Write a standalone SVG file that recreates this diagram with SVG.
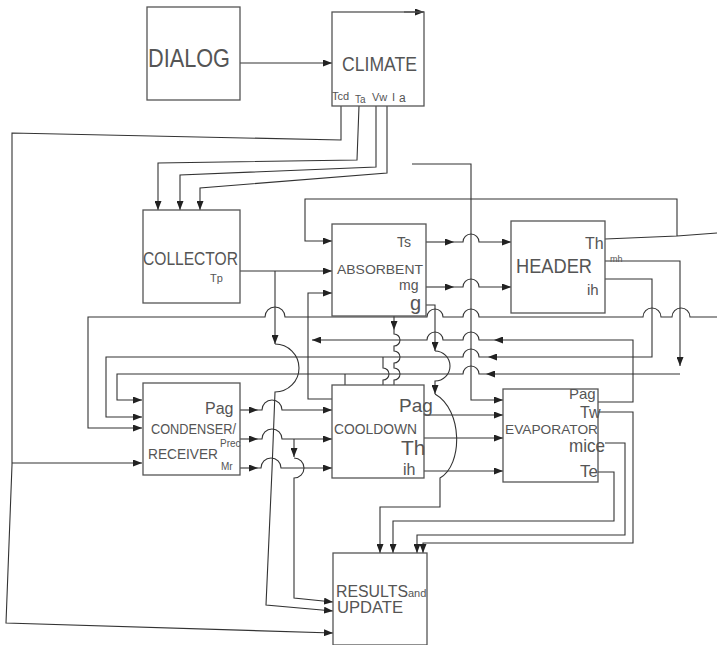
<svg xmlns="http://www.w3.org/2000/svg" width="717" height="645" viewBox="0 0 717 645">
<defs>
<marker id="ah" markerWidth="9" markerHeight="7" refX="9" refY="3.5" orient="auto" markerUnits="userSpaceOnUse"><path d="M0,0 L9,3.5 L0,7 z" fill="#222"/></marker>
</defs>
<style>
.box{fill:none;stroke:#555;stroke-width:1.3}
.c{fill:none;stroke:#333;stroke-width:1.1}
.a{marker-end:url(#ah)}
text{font-family:"Liberation Sans",Arial,sans-serif;fill:#555}
</style>
<rect width="717" height="645" fill="#fff"/>
<g id="connectors">
<path class="c a" d="M240,63 H332"/>
<path class="c a" d="M404,12 H424"/>
<path class="c a" d="M341,106 V140 L12,133 L12,465 L6,623 L333,633"/>
<path class="c a" d="M12,463 H142"/>
<path class="c a" d="M359,106 L357,160 L158,163 V210"/>
<path class="c a" d="M376,106 L376,167 L180,175 V210"/>
<path class="c a" d="M387,106 L387,173 L200,188 V210"/>
<path class="c a" d="M412,164 H471 V400 H503"/>
<path class="c" d="M605,239 L677,236 L717,233"/>
<path class="c a" d="M677,236 V199 H305 V241 H332"/>
<path class="c a" d="M240,271 H332"/>
<path class="c a" d="M275,271 V344"/>
<path class="c a" d="M275,344 A24,24 0 0 1 275,392 L272,470 L266,605 L333,611"/>
<path class="c a" d="M332,399 H308 V293 H332"/>
<path class="c a" d="M426,242 H454"/>
<path class="c a" d="M454,242 H463 A8,8 0 0 1 479,242 H511"/>
<path class="c a" d="M426,287 H454"/>
<path class="c a" d="M454,287 H463 A8,8 0 0 1 479,287 H511"/>
<path class="c a" d="M426,305 H435 V351"/>
<path class="c a" d="M435,351 A15,15 0 0 1 435,381 V394"/>
<path class="c a" d="M435,394 C463,410 463,465 440,478 V507 H380 V553"/>
<path class="c a" d="M717,317 H690 A9,9 0 0 0 672,317 H661 A9,9 0 0 0 643,317 H479 A8,8 0 0 0 463,317 H443 A8,8 0 0 0 427,317 H285 A10,10 0 0 0 265,317 H88 V428 H142"/>
<path class="c a" d="M598,402 H633 V340 H494"/>
<path class="c a" d="M494,340 H479 A8,8 0 0 0 463,340 H443 A8,8 0 0 0 427,340 H312"/>
<path class="c a" d="M605,279 H652 V357 H488"/>
<path class="c a" d="M488,357 H479 A8,8 0 0 0 463,357 H106 V417 H142"/>
<path class="c a" d="M605,261 H680 V366"/>
<path class="c a" d="M680,374 H486"/>
<path class="c a" d="M486,374 H479 A8,8 0 0 0 463,374 H117 V400 H142"/>
<path class="c" d="M345,374 V385"/>
<path class="c" d="M383,357 V368 A6,6 0 0 1 383,380 V385"/>
<path class="c a" d="M394,316 V330"/>
<path class="c" d="M394,330 V334 A6,6 0 0 1 394,346 V351 A6,6 0 0 1 394,363 V368 A6,6 0 0 1 394,380 V385"/>
<path class="c a" d="M424,415 H503"/>
<path class="c a" d="M424,438 H503"/>
<path class="c a" d="M424,471 H503"/>
<path class="c a" d="M240,410 H258"/>
<path class="c a" d="M258,410 H262 A10,10 0 0 1 282,410 H332"/>
<path class="c a" d="M240,439 H258"/>
<path class="c a" d="M258,439 H262 A10,10 0 0 1 282,439 H332"/>
<path class="c a" d="M240,468 H258"/>
<path class="c a" d="M258,468 H261 A10,10 0 0 1 281,468 H332"/>
<path class="c a" d="M294,439 V457"/>
<path class="c a" d="M294,458 A10,10 0 0 1 294,478 V598 L333,602"/>
<path class="c a" d="M598,412 H633 V543 H423 V553"/>
<path class="c a" d="M605,443 H625 V535 H417 V553"/>
<path class="c a" d="M598,472 H614 V521 H393 V553"/>
</g>
<g id="dialog"><rect class="box" x="147" y="7" width="93" height="93"/><text x="148" y="67" font-size="26" textLength="82" lengthAdjust="spacingAndGlyphs">DIALOG</text></g>
<g id="climate"><rect class="box" x="332" y="12" width="92" height="94"/><text x="342" y="71" font-size="20" textLength="75" lengthAdjust="spacingAndGlyphs">CLIMATE</text>
<text x="332" y="100" font-size="11">Tcd</text><text x="355" y="103" font-size="10">Ta</text><text x="372" y="101" font-size="11">Vw</text><text x="392" y="101" font-size="11">I</text><text x="399" y="102" font-size="12">a</text></g>
<g id="collector"><rect class="box" x="143" y="210" width="97" height="93"/><text x="143" y="265" font-size="18" textLength="95" lengthAdjust="spacingAndGlyphs">COLLECTOR</text><text x="210" y="282" font-size="11">Tp</text></g>
<g id="absorbent"><rect class="box" x="332" y="224" width="94" height="92"/><text x="337" y="274" font-size="13" textLength="86" lengthAdjust="spacingAndGlyphs">ABSORBENT</text>
<text x="397" y="247" font-size="14">Ts</text><text x="399" y="290" font-size="14">mg</text><text x="410" y="310" font-size="20">g</text></g>
<g id="header"><rect class="box" x="511" y="221" width="94" height="92"/><text x="516" y="273" font-size="20" textLength="76" lengthAdjust="spacingAndGlyphs">HEADER</text>
<text x="585" y="249" font-size="16">Th</text><text x="610" y="262" font-size="9">mh</text><text x="587" y="295" font-size="15">ih</text></g>
<g id="condenser"><rect class="box" x="143" y="383" width="97" height="92"/><text x="205" y="414" font-size="16">Pag</text>
<text x="151" y="434" font-size="14" textLength="85" lengthAdjust="spacingAndGlyphs">CONDENSER/</text><text x="220" y="447" font-size="10">Prec</text>
<text x="148" y="459" font-size="15" textLength="70" lengthAdjust="spacingAndGlyphs">RECEIVER</text><text x="221" y="470" font-size="10">Mr</text></g>
<g id="cooldown"><rect class="box" x="332" y="385" width="92" height="93"/><text x="399" y="412" font-size="19">Pag</text>
<text x="334" y="434" font-size="14" textLength="83" lengthAdjust="spacingAndGlyphs">COOLDOWN</text><text x="401" y="455" font-size="21">Th</text><text x="403" y="475" font-size="16">ih</text></g>
<g id="evaporator"><rect class="box" x="503" y="389" width="95" height="93"/><text x="569" y="399" font-size="15">Pag</text><text x="580" y="418" font-size="16">Tw</text>
<text x="505" y="434" font-size="13" textLength="93" lengthAdjust="spacingAndGlyphs">EVAPORATOR</text><text x="569" y="452" font-size="19" textLength="36" lengthAdjust="spacingAndGlyphs">mice</text><text x="580" y="477" font-size="17">Te</text></g>
<g id="results"><rect class="box" x="333" y="553" width="94" height="92"/><text x="336" y="597" font-size="16" textLength="72" lengthAdjust="spacingAndGlyphs">RESULTS</text><text x="408" y="597" font-size="11">and</text>
<text x="337" y="613" font-size="16" textLength="66" lengthAdjust="spacingAndGlyphs">UPDATE</text></g>
</svg>
